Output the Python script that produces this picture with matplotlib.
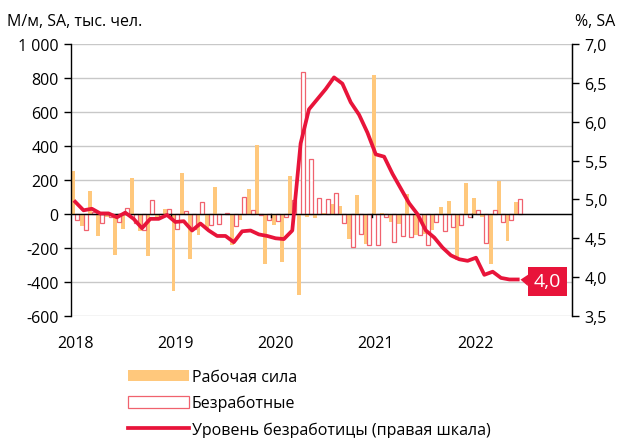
import matplotlib
matplotlib.use("Agg")
import matplotlib.pyplot as plt
import numpy as np
from matplotlib.patches import Patch
from matplotlib.lines import Line2D
from matplotlib.ticker import FuncFormatter

plt.rcParams["font.family"] = ["Open Sans", "DejaVu Sans"]

# monthly data, Jan 2018 .. Jun 2022
labour_force = [255, -72, 137, -132, -15, -240, -88, 210, -98, -245, -20, 30,
                -450, 240, -265, -125, -95, 160, 0, -185, -35, 148, 405, -295,
                -63, -285, 222, -475, -20, -25, 5, 60, 48, -145, 112, -175,
                820, 5, -45, -60, 118, -124, -118, -94, 43, 75, -270, 180,
                94, -20, -294, 196, -160, 69]
unemployed = [-35, -92, 10, -53, -20, -45, 34, -50, -95, 82, -10, 30,
              -88, 18, -90, 70, -65, -57, 5, -70, 100, 22, -5, -35,
              -43, -20, 80, 833, 324, 92, 90, 122, -53, -194, -115, -180,
              -180, -15, -165, -130, -135, -124, -182, -45, -98, -75, -65, -16,
              24, -172, 24, -45, -35, 88]
unemp_rate = [4.97, 4.86, 4.88, 4.82, 4.82, 4.77, 4.83, 4.75, 4.63, 4.75, 4.75, 4.80,
              4.71, 4.72, 4.60, 4.69, 4.60, 4.53, 4.53, 4.45, 4.59, 4.60, 4.55, 4.53,
              4.50, 4.49, 4.60, 5.72, 6.16, 6.29, 6.42, 6.57, 6.49, 6.25, 6.09, 5.86,
              5.58, 5.55, 5.33, 5.14, 4.95, 4.81, 4.60, 4.51, 4.38, 4.28, 4.23, 4.21,
              4.25, 4.03, 4.07, 3.99, 3.97, 3.97]
years = ["2018", "2019", "2020", "2021", "2022"]
n_slots = 60  # category axis runs to Dec 2022

ORANGE = "#FFC87C"
RED = "#E8143A"
RED_EDGE = "#F0626E"
FS = 11.5

fig = plt.figure(figsize=(6.19, 4.39), dpi=100)
ax = fig.add_axes([71 / 619, 1 - 317 / 439, (572 - 71) / 619, (317 - 45) / 439])
ax2 = ax.twinx()

x = np.arange(len(labour_force))
ax.bar(x - 0.23, labour_force, width=0.46, color=ORANGE, zorder=2)
ax.bar(x + 0.24, unemployed, width=0.48, facecolor="white", edgecolor=RED_EDGE,
       linewidth=0.9, zorder=2)
ax.axhline(0, color="black", lw=1.0, zorder=3)
for k in range(1, len(years)):
    ax.plot([12 * k - 0.5] * 2, [0, -18], color="black", lw=1.0, zorder=3)

ax.set_xlim(-0.5, n_slots - 0.5)
ax.set_ylim(-600, 1000)
ax.set_yticks(np.arange(-600, 1001, 200))
ax.yaxis.set_major_formatter(FuncFormatter(lambda v, p: f"{int(v):,}".replace(",", " ")))
ax.grid(axis="y", color="#c8c8c8", lw=1.0, zorder=0)
ax.set_axisbelow(True)
ax.set_xticks([12 * k for k in range(len(years))])
ax.set_xticklabels(years)
ax.tick_params(axis="x", length=0, pad=14, labelsize=FS)
ax.tick_params(axis="y", length=5, width=1, labelsize=FS, pad=4)
for s in ("top", "bottom"):
    ax.spines[s].set_visible(False)
    ax2.spines[s].set_visible(False)
ax.spines["left"].set_linewidth(1.0)
ax2.spines["right"].set_linewidth(1.0)
ax2.spines["left"].set_visible(False)

ax2.plot(x, unemp_rate, color=RED, lw=2.7, solid_joinstyle="round", zorder=4)
ax2.set_ylim(3.5, 7.0)
ax2.set_yticks(np.arange(3.5, 7.01, 0.5))
ax2.yaxis.set_major_formatter(FuncFormatter(lambda v, p: f"{v:.1f}".replace(".", ",")))
ax2.tick_params(axis="y", length=5, width=1, labelsize=FS, pad=4)

last = len(unemp_rate) - 1
ax2.annotate(f"{unemp_rate[last]:.1f}".replace(".", ","), xy=(x[last], unemp_rate[last]),
             xytext=(30, -2), textcoords="offset pixels", color="white", fontsize=14,
             ha="center", va="center",
             bbox=dict(boxstyle="square,pad=0.3", fc=RED, ec="none"),
             arrowprops=dict(arrowstyle="wedge,tail_width=0.6", fc=RED, ec="none",
                             shrinkA=0, shrinkB=2))

fig.text(7 / 619, 1 - 22 / 439, "М/м, SA, тыс. чел.", fontsize=FS, va="center", ha="left")
fig.text(615 / 619, 1 - 22 / 439, "%, SA", fontsize=FS, va="center", ha="right")

handles = [Patch(facecolor=ORANGE, edgecolor="none"),
           Patch(facecolor="white", edgecolor=RED_EDGE, linewidth=0.9),
           Line2D([], [], color=RED, lw=2.7)]
labels = ["Рабочая сила", "Безработные", "Уровень безработицы (правая шкала)"]
fig.legend(handles, labels, loc="upper left", bbox_to_anchor=(128 / 619, 1 - 370 / 439),
           frameon=False, fontsize=FS, handlelength=3.8, handleheight=0.75,
           handletextpad=0.2, labelspacing=0.62, borderpad=0, borderaxespad=0)

fig.savefig("out.png", dpi=100)
